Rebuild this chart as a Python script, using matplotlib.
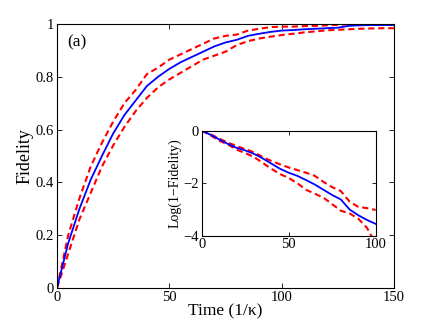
import matplotlib
matplotlib.use("Agg")
import matplotlib.pyplot as plt
import numpy as np

plt.rcParams['font.family'] = ['Liberation Serif', 'DejaVu Serif']
plt.rcParams['mathtext.fontset'] = 'stix'

# Main panel data
time = list(range(0, 155, 5))
fid_mean = [0, 0.17, 0.30, 0.41, 0.50, 0.585, 0.655, 0.71, 0.765, 0.80, 0.83,
            0.855, 0.875, 0.895, 0.915, 0.93, 0.94, 0.955, 0.963, 0.970, 0.975,
            0.977, 0.98, 0.982, 0.984, 0.986, 0.993, 0.995, 0.996, 0.996, 0.996]
fid_upper = [0, 0.20, 0.34, 0.46, 0.55, 0.63, 0.70, 0.75, 0.81, 0.835, 0.865,
             0.885, 0.905, 0.925, 0.945, 0.955, 0.96, 0.975, 0.982, 0.988, 0.99,
             0.99, 0.992, 0.993, 0.995, 0.997, 0.999, 1.0, 1.0, 1.0, 1.0]
fid_lower = [0, 0.13, 0.26, 0.36, 0.46, 0.54, 0.61, 0.67, 0.72, 0.76, 0.79,
             0.815, 0.84, 0.865, 0.88, 0.895, 0.92, 0.935, 0.945, 0.952, 0.958,
             0.963, 0.968, 0.972, 0.976, 0.978, 0.98, 0.982, 0.983, 0.984, 0.984]

# Inset data
time_in = list(range(0, 105, 5))
log_mean = [0, -0.15, -0.33, -0.50, -0.65, -0.75, -0.88, -1.05, -1.25, -1.45, -1.60,
            -1.72, -1.88, -2.05, -2.25, -2.45, -2.62, -3.0, -3.22, -3.40, -3.55]
log_upper = [0, -0.13, -0.30, -0.45, -0.58, -0.70, -0.82, -1.00, -1.15, -1.28, -1.40,
             -1.50, -1.60, -1.72, -1.95, -2.15, -2.30, -2.70, -2.90, -2.95, -3.02]
log_lower = [0, -0.17, -0.38, -0.52, -0.72, -0.85, -1.0, -1.22, -1.45, -1.65, -1.80,
             -2.0, -2.25, -2.40, -2.55, -2.80, -3.05, -3.15, -3.35, -3.70, -4.3]

main_xticks = [0, 50, 100, 150]
main_yticks = [0, 0.2, 0.4, 0.6, 0.8, 1]
main_yticklabels = ['0', '0.2', '0.4', '0.6', '0.8', '1']
in_xticks = [0, 50, 100]
in_yticks = [-4, -2, 0]
in_yticklabels = ['\u22124', '\u22122', '0']

fig = plt.figure(figsize=(4.36, 3.26), dpi=100)
ax = fig.add_axes([0.1307, 0.1166, 0.773, 0.8098])

dash = (3, 1.8)
ax.plot(time, fid_upper, color='#ff0000', lw=1.5, dashes=dash)
ax.plot(time, fid_lower, color='#ff0000', lw=1.5, dashes=dash)
ax.plot(time, fid_mean, color='#0000ff', lw=1.3)
ax.set_xlim(0, 150)
ax.set_ylim(0, 1)
ax.set_xticks(main_xticks)
ax.set_yticks(main_yticks)
ax.set_yticklabels(main_yticklabels)
ax.tick_params(direction='in', top=True, right=True, labelsize=10.5, length=3.5, width=0.6, pad=2)
for s in ax.spines.values():
    s.set_linewidth(0.8)
ax.set_xlabel('Time (1/\u03ba)', fontsize=12.5, labelpad=0)
ax.set_ylabel('Fidelity', fontsize=13, labelpad=2)
ax.text(0.03, 0.93, '(a)', transform=ax.transAxes, fontsize=12.5, va='center', ha='left')

ins = fig.add_axes([0.4626, 0.277, 0.399, 0.322])
ins.plot(time_in, log_upper, color='#ff0000', lw=1.5, dashes=dash)
ins.plot(time_in, log_lower, color='#ff0000', lw=1.5, dashes=dash)
ins.plot(time_in, log_mean, color='#0000ff', lw=1.3)
ins.set_xlim(0, 100)
ins.set_ylim(-4, 0)
ins.set_xticks(in_xticks)
ins.set_yticks(in_yticks)
ins.set_yticklabels(in_yticklabels)
ins.tick_params(direction='in', top=True, right=True, labelsize=10.5, length=3, width=0.6, pad=2)
for s in ins.spines.values():
    s.set_linewidth(0.8)
ins.set_ylabel('Log(1\u2212Fidelity)', fontsize=10, labelpad=1)

fig.savefig('out.png', dpi=100)
